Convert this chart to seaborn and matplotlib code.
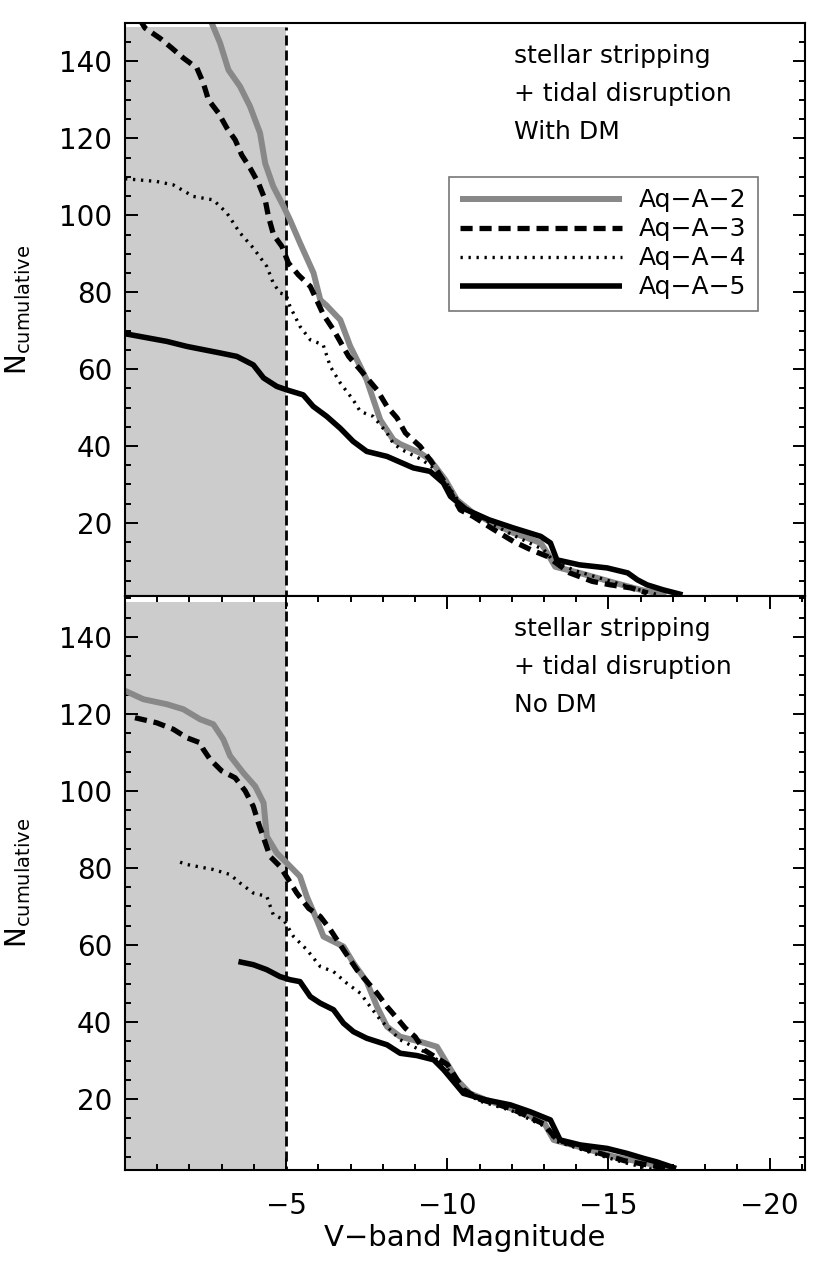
import matplotlib
matplotlib.use("Agg")
import matplotlib.pyplot as plt
from matplotlib.ticker import MultipleLocator
import seaborn as sns
import pandas as pd

# ---------------- data ----------------
SERIES = ["Aq-A-2", "Aq-A-3", "Aq-A-4", "Aq-A-5"]
LEGEND_LABELS = ["Aq\u2212A\u22122", "Aq\u2212A\u22123", "Aq\u2212A\u22124", "Aq\u2212A\u22125"]

# Top panel: With DM
a2_top_m = [-2.60, -2.69, -2.95, -3.21, -3.57, -3.88, -4.19, -4.35, -4.60, -4.92, -5.12, -5.43, -5.85,
            -6.06, -6.26, -6.37, -6.68, -6.99, -7.30, -7.50, -7.92, -8.33, -8.54, -9.16, -9.47, -9.94,
            -10.3, -10.8, -11.4, -12.05, -12.9, -13.1, -13.35, -14.1, -15.2, -16.0, -16.8]
a2_top_n = [152, 150, 144.8, 137.8, 133.5, 128.3, 121.4, 113.5, 107.5, 102.3, 98.8, 92.8, 85,
            78, 76.5, 75.5, 72.8, 65.9, 60.7, 57.2, 46.8, 41.6, 40.5, 38.2, 36.4, 31.2,
            26, 22.6, 20, 17.4, 14.8, 12.2, 8.6, 7.0, 4.4, 2.6, 1.3]

a3_top_m = [-0.45, -0.62, -1.09, -1.45, -1.81, -2.23, -2.43, -2.59, -2.90, -3.16, -3.42, -3.62, -3.88,
            -4.14, -4.35, -4.45, -4.61, -4.87, -5.07, -5.38, -5.75, -6.16, -6.47, -6.94, -7.30, -7.82,
            -8.13, -8.44, -8.70, -9.16, -9.5, -10.0, -10.4, -10.8, -11.4, -12.05, -12.6, -13.1, -13.8,
            -14.5, -15.06, -15.7, -16.2]
a3_top_n = [151, 148.7, 146, 143.5, 140.9, 138.3, 134.4, 130, 126.6, 122.7, 119.6, 115.7, 112.3,
            108.4, 104, 99.7, 94.9, 91.9, 87.6, 84.5, 81.5, 74.1, 70.2, 63.3, 59.8, 54.6,
            50.3, 47.3, 43.4, 39.9, 36, 29.5, 23.4, 21.7, 18.5, 15.2, 13, 11.3, 7.0,
            4.8, 3.9, 3.1, 1.8]

a4_top_m = [0.0, -0.98, -1.50, -2.12, -2.74, -3.16, -3.57, -3.98, -4.40, -4.60, -4.81, -5.00, -5.12,
            -5.43, -5.75, -6.15, -6.37, -6.68, -7.08, -7.30, -7.70, -8.13, -8.33, -8.6, -9.2, -9.7,
            -10.0, -10.4, -11.0, -12.0, -13.0, -13.3, -14.0, -15.0, -16.0, -16.6]
a4_top_n = [109.5, 108.8, 107.9, 104.9, 104, 100.6, 95.4, 91.5, 86.7, 82.4, 79.8, 79.3, 76.3,
            71.1, 67.6, 66.3, 60.7, 56.4, 52, 49, 47.7, 43.4, 40.6, 39, 36.5, 33.5,
            30, 25, 21.5, 17, 13, 10, 7.5, 5, 2.5, 1.2]

a5_top_m = [0.0, -1.30, -1.92, -2.95, -3.47, -3.98, -4.30, -4.71, -5.02, -5.53, -5.84, -6.26, -6.68,
            -7.08, -7.50, -8.13, -8.54, -8.95, -9.47, -9.88, -10.1, -10.6, -11.3, -12.05, -12.9, -13.2,
            -13.4, -14.1, -14.96, -15.6, -15.9, -16.2, -16.7, -17.3]
a5_top_n = [69.2, 67.2, 65.9, 64.2, 63.3, 61.1, 57.7, 55.5, 54.6, 53.3, 50.3, 47.7, 44.6,
            41.2, 38.6, 37.3, 35.8, 34.3, 33.4, 30.4, 26.9, 23.4, 20.8, 18.7, 16.5, 14.8,
            10.4, 9.1, 8.3, 7.0, 5.2, 3.9, 2.6, 1.3]

# Bottom panel: No DM
a2_bot_m = [0.0, -0.57, -1.30, -1.81, -2.33, -2.74, -3.05, -3.26, -3.67, -4.04, -4.30, -4.40, -4.71,
            -5.02, -5.43, -5.64, -5.95, -6.16, -6.47, -6.78, -7.09, -7.50, -7.82, -8.13, -8.54, -9.16,
            -9.68, -9.99, -10.3, -10.7, -11.2, -11.85, -12.47, -12.99, -13.3, -14.1, -15.2, -16.0,
            -16.7, -17.0]
a2_bot_n = [126, 123.8, 122.5, 121.2, 118.6, 117.3, 113.4, 109.1, 104.7, 101.2, 96.9, 88.2, 83.9,
            81.3, 77.8, 72.6, 66.6, 62.2, 60.9, 59.6, 55.3, 50.5, 44, 38.8, 36.2, 34.9,
            33.6, 29.3, 25, 21.5, 19.8, 18, 15.9, 14.1, 9.4, 7.6, 5.0, 3.7,
            2.4, 1.6]

a3_bot_m = [-0.31, -0.98, -1.50, -1.92, -2.33, -2.43, -2.64, -3.00, -3.42, -3.73, -3.98, -4.14, -4.50,
            -4.81, -5.07, -5.33, -5.7, -6.06, -6.37, -6.8, -7.2, -7.82, -8.13, -8.44, -8.70, -9.0,
            -9.27, -10.0, -10.5, -11.0, -12.0, -13.0, -13.4, -14.5, -15.5, -16.5, -17.0]
a3_bot_n = [119, 117.7, 116, 113.8, 112.5, 110.8, 108.2, 105.2, 103.4, 100, 96, 91.7, 83,
            80.4, 77, 73.5, 69.5, 67.4, 64, 58.5, 53.5, 47.5, 44, 41, 38.4, 36.2,
            32.8, 29, 22.5, 20, 17.5, 13.5, 9.5, 6.5, 4, 2.5, 1.5]

a4_bot_m = [-1.71, -1.92, -2.74, -3.26, -3.57, -3.98, -4.40, -4.60, -4.92, -5.23, -5.64, -6.06, -6.47,
            -6.88, -7.30, -7.61, -7.92, -8.54, -8.95, -9.5, -10.0, -10.5, -11.0, -12.0, -13.0, -13.4,
            -14.5, -15.5, -16.5]
a4_bot_n = [81.5, 80.9, 79.6, 78.3, 76.1, 73.5, 72.6, 67.9, 66.6, 62.2, 58.8, 54.4, 53.1,
            50.1, 47.5, 44, 40.6, 35.4, 33.6, 31.5, 28, 22, 19.5, 17, 13, 9,
            6, 3.5, 1.5]

a5_bot_m = [-3.52, -3.98, -4.40, -4.81, -5.12, -5.43, -5.75, -6.06, -6.47, -6.78, -7.09, -7.50, -8.13,
            -8.54, -9.06, -9.58, -9.89, -10.2, -10.5, -11.2, -11.96, -12.58, -13.2, -13.5, -14.13,
            -14.96, -15.58, -16.1, -16.5, -17.1]
a5_bot_n = [55.7, 54.9, 53.6, 51.8, 51.0, 50.5, 46.6, 44.9, 43.2, 39.7, 37.5, 35.8, 34.1,
            31.9, 31.3, 30.2, 27.6, 24.5, 21.5, 19.8, 18.5, 16.7, 14.6, 9.4, 8.1,
            7.2, 5.9, 4.6, 3.7, 2.0]

MAG_LIMIT = -5.0        # completeness limit (dashed vertical line / shaded area)
SHADE_TOP = 149.0
PANEL_TEXT = [["stellar stripping", "+ tidal disruption", "With DM"],
              ["stellar stripping", "+ tidal disruption", "No DM"]]
XTICKS = [-5, -10, -15, -20]
YTICKS = [20, 40, 60, 80, 100, 120, 140]
XLABEL = "V\u2212band Magnitude"
YLABEL = r"$\mathregular{N_{cumulative}}$"

# ---------------- style ----------------
sns.set_theme(style="white")
plt.rcParams["font.family"] = ["DejaVu Sans"]
plt.rcParams["axes.linewidth"] = 1.5
plt.rcParams["axes.edgecolor"] = "black"
plt.rcParams["text.color"] = "black"
plt.rcParams["axes.labelcolor"] = "black"
plt.rcParams["xtick.color"] = "black"
plt.rcParams["ytick.color"] = "black"

GRAY = "#888888"
styles = {
    "Aq-A-2": dict(color=GRAY, lw=4.3, ls="-"),
    "Aq-A-3": dict(color="black", lw=3.8, ls=(0, (2.3, 1.3))),
    "Aq-A-4": dict(color="black", lw=2.4, ls=(0, (0.7, 1.7))),
    "Aq-A-5": dict(color="black", lw=4.0, ls="-"),
}

fig = plt.figure(figsize=(8.3, 12.72), dpi=100)
ax_top = fig.add_axes([0.1506, 0.53145, 0.81928, 0.45047])
ax_bot = fig.add_axes([0.1506, 0.08019, 0.81928, 0.45126])

panels = [
    (ax_top, [(a2_top_m, a2_top_n), (a3_top_m, a3_top_n), (a4_top_m, a4_top_n), (a5_top_m, a5_top_n)], (1, 150)),
    (ax_bot, [(a2_bot_m, a2_bot_n), (a3_bot_m, a3_bot_n), (a4_bot_m, a4_bot_n), (a5_bot_m, a5_bot_n)], (1.6, 150.6)),
]

for i, (ax, curves, ylim) in enumerate(panels):
    # shaded incompleteness region and limit line
    ax.fill_between([0, MAG_LIMIT], [SHADE_TOP, SHADE_TOP], [0, 0], color="#cccccc", lw=0, zorder=0)
    ax.vlines(MAG_LIMIT, 0, SHADE_TOP, colors="black", lw=2.0, linestyles=[(0, (3.6, 1.8))], zorder=1)

    handles = []
    for name, (m, n) in zip(SERIES, curves):
        df = pd.DataFrame({"mag": m, "N": n})
        st = styles[name]
        sns.lineplot(data=df, x="mag", y="N", ax=ax, color=st["color"], lw=st["lw"],
                     sort=False, estimator=None, legend=False, zorder=2)
        line = ax.get_lines()[-1]
        line.set_linestyle(st["ls"])
        line.set_solid_capstyle("butt")
        line.set_dash_capstyle("butt")
        handles.append(line)

    ax.set_xlim(0, -21.1)
    ax.set_ylim(*ylim)
    ax.set_xticks(XTICKS)
    ax.xaxis.set_minor_locator(MultipleLocator(1))
    ax.set_yticks(YTICKS)
    ax.yaxis.set_minor_locator(MultipleLocator(5))
    ax.tick_params(axis="both", which="both", direction="in", width=1.4, colors="black",
                   labelsize=20, left=True, right=True)
    ax.tick_params(which="major", length=9)
    ax.tick_params(which="minor", length=4.5)
    ax.tick_params(axis="y", pad=9)
    ax.set_ylabel(YLABEL, fontsize=20, labelpad=19)
    ax.set_xlabel("")

    for j, txt in enumerate(PANEL_TEXT[i]):
        ax.text(0.572, 0.930 - j * 0.066, txt, transform=ax.transAxes, fontsize=18,
                ha="left", va="baseline")

    if i == 0:
        ax.tick_params(axis="x", which="both", bottom=False, top=False, labelbottom=False)
        leg = ax.legend(handles, LEGEND_LABELS, loc="upper left", bbox_to_anchor=(0.476, 0.731),
                        fontsize=18, frameon=True, fancybox=False, borderaxespad=0,
                        handlelength=6.5, handletextpad=0.65, labelspacing=0.2, borderpad=0.45)
        leg.get_frame().set_edgecolor("#777777")
        leg.get_frame().set_linewidth(1.2)
        leg.get_frame().set_alpha(1)
    else:
        ax.tick_params(axis="x", which="both", bottom=True, top=True, pad=16)
        ax.set_xlabel(XLABEL, fontsize=21, labelpad=3)

    for sp in ax.spines.values():
        sp.set_linewidth(1.5)
        sp.set_color("black")

fig.savefig("out.png", dpi=100)
